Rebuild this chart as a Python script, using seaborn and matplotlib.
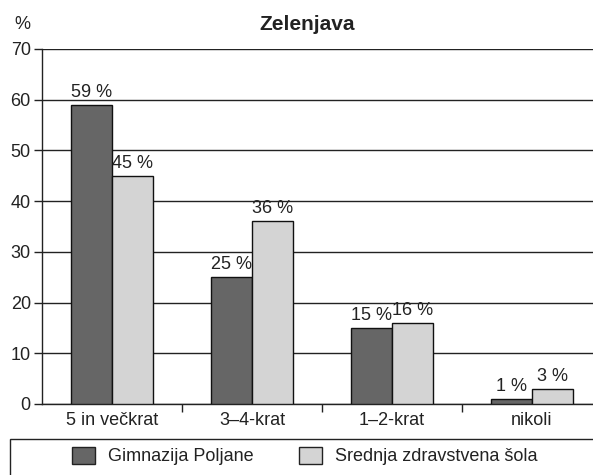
import seaborn as sns
from matplotlib import pyplot as plt
from matplotlib.patches import Patch, Rectangle
import pandas as pd

categories = ['5 in večkrat', '3–4-krat', '1–2-krat', 'nikoli']
schools = ['Gimnazija Poljane', 'Srednja zdravstvena šola']
gimnazija = [59, 25, 15, 1]
zdravstvena = [45, 36, 16, 3]
colors = ['#666666', '#d4d4d4']

df = pd.DataFrame({
    'kategorija': categories * 2,
    'sola': [schools[0]] * 4 + [schools[1]] * 4,
    'delez': gimnazija + zdravstvena,
})

sns.set_style('white')
plt.rcParams['font.family'] = ['Liberation Sans', 'DejaVu Sans']
fs = 13
txt = '#222222'

fig = plt.figure(figsize=(5.93, 4.75), dpi=100)
ax = fig.add_axes([0.0708, 0.1495, 0.9444, 0.7474])

sns.barplot(data=df, x='kategorija', y='delez', hue='sola', palette=colors,
            width=0.59, edgecolor='#111111', linewidth=1.0, ax=ax, legend=False,
            zorder=3)

for cont in ax.containers:
    ax.bar_label(cont, labels=[f'{int(v)} %' for v in cont.datavalues],
                 padding=3, fontsize=fs, color=txt)

ax.set_ylim(0, 70)
ax.set_xlim(-0.5, 3.5)
ax.set_yticks(range(0, 71, 10))
ax.yaxis.grid(True, color='#222222', linewidth=1.0, zorder=0)
ax.set_axisbelow(True)
ax.set_xlabel('')
ax.set_ylabel('')
ax.tick_params(axis='y', labelsize=fs, length=6, width=1.0, direction='out',
               left=True, pad=2, colors=txt)
ax.tick_params(axis='x', labelsize=fs, length=0, pad=5.5, colors=txt)
ax.set_xticks([0.5, 1.5, 2.5], minor=True)
ax.tick_params(axis='x', which='minor', length=6, width=1.0, direction='out',
               bottom=True, color=txt)
for s in ['top', 'right']:
    ax.spines[s].set_visible(False)
for s in ['left', 'bottom']:
    ax.spines[s].set_color('#222222')
    ax.spines[s].set_linewidth(1.0)

fig.text(0.5185, 0.937, 'Zelenjava', ha='center', va='baseline',
         fontsize=15, fontweight='bold', color=txt)
fig.text(0.038, 0.939, '%', ha='center', va='baseline', fontsize=fs,
         color=txt)

# legend frame, runs off the right and bottom edge like the reference
fig.patches.append(Rectangle((0.0169, -0.05), 1.1, 0.1258,
                             transform=fig.transFigure, facecolor='none',
                             edgecolor='#222222', linewidth=1.0))
handles = [Patch(facecolor=c, edgecolor='#222222', linewidth=1.0) for c in colors]
leg = fig.legend(handles, schools, loc='center left',
                 bbox_to_anchor=(0.1214, 0.04), ncol=2, frameon=False,
                 fontsize=fs, borderaxespad=0, borderpad=0,
                 handlelength=1.27, handleheight=1.1, handletextpad=0.72,
                 columnspacing=2.5)
for t in leg.get_texts():
    t.set_color(txt)

fig.savefig('out.png', dpi=100)
